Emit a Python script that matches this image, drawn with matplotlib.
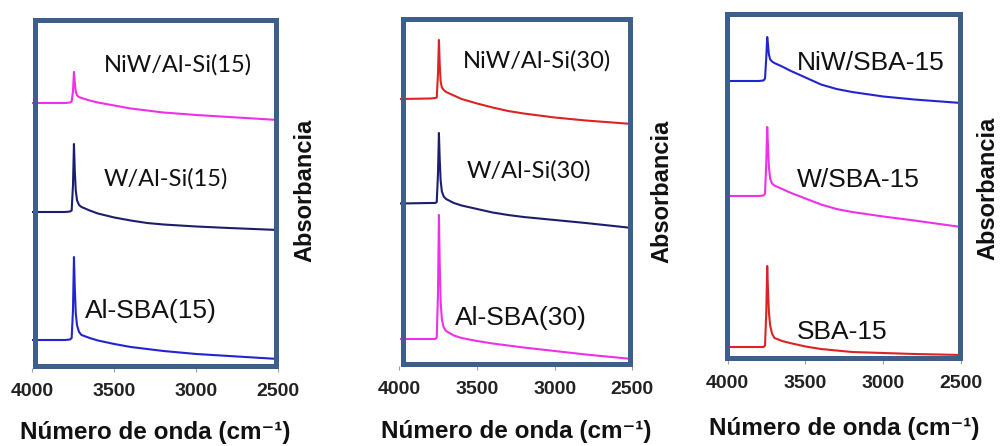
import matplotlib
matplotlib.use("Agg")
import matplotlib.pyplot as plt
from matplotlib.patches import Rectangle

W, H = 1002, 446

plt.rcParams['font.family'] = ['Liberation Sans', 'DejaVu Sans']

# wavenumber grid (cm-1) used for all read-off spectra
wn = [4000, 3800, 3770, 3760, 3752, 3746, 3741, 3735, 3727, 3715,
      3700, 3650, 3600, 3500, 3400, 3300, 3200, 3000, 2800, 2500]

# absorbance (a.u.)
niw_alsi15 = [262.5, 262.5, 263, 264, 274, 293.5, 283, 274, 270, 268.5,
              267.5, 265, 263, 260, 257, 255, 253, 250.5, 248.5, 245.5]
w_alsi15 = [153.5, 153.5, 154, 155, 180, 221.5, 195, 175, 165, 160.5,
            158.5, 155, 152, 148, 145, 142.5, 141, 139, 137.5, 135.5]
alsba15 = [25.5, 25.5, 26, 27.5, 55, 108.5, 78, 52, 40, 33.5,
           30.5, 27.5, 25, 21.5, 18.5, 16.5, 14.5, 11.5, 9.5, 6.5]

niw_alsi30 = [264.5, 265, 265.5, 266, 290, 323.5, 300, 282, 276, 273.5,
              271.5, 268, 264.5, 260, 256, 252.5, 250, 246, 243, 239.5]
w_alsi30 = [160, 160.5, 160.5, 161.5, 190, 230.5, 205, 183, 172, 167,
            164.5, 160.5, 158, 154.5, 151, 148.5, 146.5, 143.5, 140.5, 135.5]
alsba30 = [24.5, 24.5, 24.5, 26, 70, 148.5, 100, 62, 44, 36,
           32.5, 28, 25.5, 22.5, 20, 18, 16, 12.5, 9, 4.5]

niw_sba15 = [276.5, 276.5, 277, 279, 300, 320.5, 313, 303, 298, 296,
             294.5, 291, 287, 280, 273, 268.5, 265.5, 261, 258, 254.5]
w_sba15 = [161.5, 161.5, 162, 164, 195, 230.5, 212, 190, 179, 174,
           172, 168.5, 165, 159, 153, 148.5, 145.5, 141, 137, 130.5]
sba15 = [10.5, 10.5, 10.5, 12, 45, 91.5, 68, 45, 32, 24,
         19.5, 16.5, 14.5, 11, 8.5, 7, 5.5, 4.5, 3.5, 2.5]

xticks = [4000, 3500, 3000, 2500]
xtick_labels = ['4000', '3500', '3000', '2500']

magenta = '#ee30e8'
navy = '#1d1d6e'
blue = '#2323d2'
red = '#dc2323'
frame_col = '#3d5f8c'

panels = [
    dict(ax=(32.3, 17, 278.3, 368), frame=(32.3, 17, 278.3, 368),
         curves=[(niw_alsi15, magenta), (w_alsi15, navy), (alsba15, blue)],
         labels=[('NiW/Al-Si(15)', 104, 72, 'Lato', 17),
                 ('W/Al-Si(15)', 104, 186, 'Lato', 17),
                 ('Al-SBA(15)', 85, 318, 'Liberation Sans', 19)],
         xlab=(155.3, 439), ylab=(305, 190.5)),
    dict(ax=(399.5, 16, 632.3, 366), frame=(400, 16, 632, 366),
         curves=[(niw_alsi30, red), (w_alsi30, navy), (alsba30, magenta)],
         labels=[('NiW/Al-Si(30)', 463, 68, 'Lato', 17),
                 ('W/Al-Si(30)', 467, 178, 'Lato', 17),
                 ('Al-SBA(30)', 455, 325, 'Liberation Sans', 19)],
         xlab=(516, 438), ylab=(662, 191.5)),
    dict(ax=(727.7, 11, 961, 360), frame=(724.3, 11, 962.7, 360),
         curves=[(niw_sba15, blue), (w_sba15, magenta), (sba15, red)],
         labels=[('NiW/SBA-15', 797, 70, 'Liberation Sans', 19),
                 ('W/SBA-15', 797, 187, 'Liberation Sans', 19),
                 ('SBA-15', 797, 339, 'Liberation Sans', 19)],
         xlab=(844, 435), ylab=(988, 188.5)),
]

fig = plt.figure(figsize=(W / 100, H / 100), dpi=100)

for p in panels:
    x0, y0, x1, y1 = p['ax']
    ax = fig.add_axes([x0 / W, 1 - y1 / H, (x1 - x0) / W, (y1 - y0) / H])
    for vals, col in p['curves']:
        ax.plot(wn, vals, color=col, lw=1.5)
    ax.set_xlim(4000, 2500)
    ax.set_ylim(-2.5, (y1 - y0) - 2.5)
    for s in ax.spines.values():
        s.set_visible(False)
    ax.set_yticks([])
    ax.set_xticks(xticks)
    ax.set_xticklabels(xtick_labels, fontsize=14, fontweight='bold', color='#222222')
    ax.tick_params(axis='x', direction='out', length=3.2, width=0.8,
                   color='#a0a0a0', pad=7.5)
    ax.patch.set_alpha(0)

    fx0, fy0, fx1, fy1 = p['frame']
    fig.add_artist(Rectangle(((fx0 + 2.5) / W, 1 - (fy1 - 2.5) / H),
                             (fx1 - fx0 - 5) / W, (fy1 - fy0 - 5) / H,
                             transform=fig.transFigure, fill=False,
                             lw=3.6, ec=frame_col, zorder=5))

    for txt, tx, ty, fam, fs in p['labels']:
        fig.text(tx / W, 1 - ty / H, txt, family=fam, fontsize=fs,
                 ha='left', va='baseline', color='#111111')

    fig.text(p['xlab'][0] / W, 1 - p['xlab'][1] / H,
             'Número de onda (cm\u207b\u00b9)', fontsize=17.5,
             family=['Liberation Sans', 'DejaVu Sans'],
             fontweight='bold', ha='center', va='baseline', color='#111111')
    fig.text(p['ylab'][0] / W, 1 - p['ylab'][1] / H, 'Absorbancia',
             fontsize=17, fontweight='bold', rotation=90,
             ha='center', va='center', color='#111111')

fig.savefig('out.png', dpi=100)
